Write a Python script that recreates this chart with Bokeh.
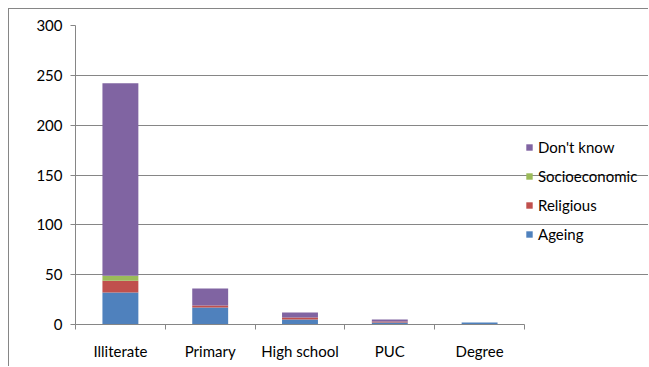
from bokeh.plotting import figure
from bokeh.models import (ColumnDataSource, FixedTicker, Legend, LegendItem,
                          Range1d)
from bokeh.embed import file_html
from bokeh.resources import INLINE

# Education levels and the reasons given, stacked per level
categories = ["Illiterate", "Primary", "High school", "PUC", "Degree"]
ageing = [32, 17, 5, 2, 2]
religious = [12, 2, 2, 1, 0]
socioeconomic = [5, 0, 0, 0, 0]
dont_know = [193, 17, 5, 2, 0]

series_names = ["Ageing", "Religious", "Socioeconomic", "Don't know"]
series_colors = ["#4F81BD", "#C0504D", "#9BBB59", "#8064A2"]
y_ticks = [0, 50, 100, 150, 200, 250, 300]

FONT = "Lato"
GREY = "#868686"

n_cat = len(categories)
xs = [i + 0.5 for i in range(n_cat)]
data = dict(x=xs, Ageing=ageing, Religious=religious,
            Socioeconomic=socioeconomic)
data["Don't know"] = dont_know
source = ColumnDataSource(data)

# The frame runs on past the last category to leave room for the legend;
# axis line and gridlines stop at the last category boundary.
PLOT_W, PLOT_H = 640, 358
BORDER_L, BORDER_T, BORDER_B = 66, 16, 43
frame_w = PLOT_W - BORDER_L
bars_w = 449
x_end = n_cat * frame_w / bars_w

p = figure(width=PLOT_W, height=PLOT_H, output_backend="svg",
           toolbar_location=None,
           x_range=Range1d(0, x_end), y_range=Range1d(0, 300),
           min_border_left=BORDER_L, min_border_right=0,
           min_border_top=BORDER_T, min_border_bottom=BORDER_B)
p.margin = (8, 0, 0, 8)
p.styles = {"border-left": f"1px solid {GREY}", "border-top": f"1px solid {GREY}"}
p.outline_line_color = None
p.background_fill_color = "white"
p.border_fill_color = "white"

renderers = p.vbar_stack(series_names, x="x", width=0.4, source=source,
                         color=series_colors, line_color=None)

# Axes
p.xgrid.visible = False
p.ygrid.grid_line_color = GREY
p.ygrid.grid_line_width = 1
p.ygrid.ticker = FixedTicker(ticks=y_ticks)
p.ygrid.bounds = (0, n_cat)

p.yaxis.ticker = FixedTicker(ticks=y_ticks)
p.yaxis.axis_line_color = GREY
p.yaxis.major_tick_line_color = GREY
p.yaxis.major_tick_in = 0
p.yaxis.major_tick_out = 5
p.yaxis.minor_tick_line_color = None
p.yaxis.major_label_text_font = FONT
p.yaxis.major_label_text_font_size = "15px"
p.yaxis.major_label_text_color = "#000000"
p.yaxis.major_label_standoff = 8

p.xaxis.bounds = (0, n_cat)
p.xaxis.ticker = FixedTicker(ticks=xs, minor_ticks=list(range(n_cat + 1)))
p.xaxis.major_label_overrides = {x: c for x, c in zip(xs, categories)}
p.xaxis.axis_line_color = GREY
p.xaxis.major_tick_line_color = None
p.xaxis.major_tick_in = 0
p.xaxis.major_tick_out = 0
p.xaxis.minor_tick_line_color = GREY
p.xaxis.minor_tick_in = 0
p.xaxis.minor_tick_out = 5
p.xaxis.major_label_text_font = FONT
p.xaxis.major_label_text_font_size = "15px"
p.xaxis.major_label_text_color = "#000000"
p.xaxis.major_label_standoff = 12

# Legend to the right of the bars, top entry last in the stack
items = [LegendItem(label=n, renderers=[r]) for n, r in zip(series_names, renderers)]
legend = Legend(items=list(reversed(items)), location=(450, 80),
                orientation="vertical", border_line_color=None,
                background_fill_alpha=0, label_text_font=FONT,
                label_text_font_size="15px", label_text_color="#000000",
                glyph_width=8, glyph_height=8, spacing=9, padding=0,
                label_height=20, label_standoff=5, margin=0)
p.add_layout(legend, "center")

open("out.html", "w").write(file_html(p, INLINE))
